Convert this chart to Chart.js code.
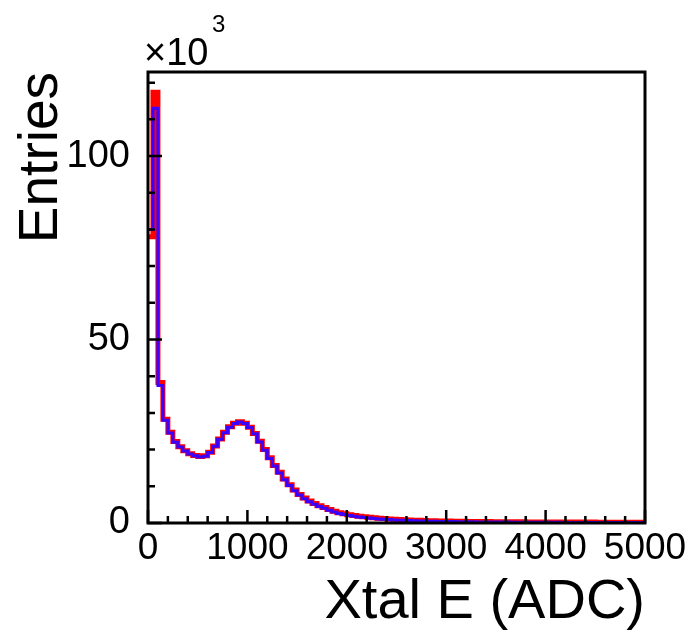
<!DOCTYPE html>
<html>
<head>
<meta charset="utf-8">
<script src="https://cdn.jsdelivr.net/npm/chart.js@4"></script>
<style>
  body { margin: 0; background: #fff; }
  #wrap { width: 687px; height: 636px; }
</style>
</head>
<body>
<div id="wrap"><canvas id="chart"></canvas></div>
<script>
// histogram: 100 bins of 50 ADC between 0 and 5000, entries in units of 10^3
const binEdges = [0, 50, 100, 150, 200, 250, 300, 350, 400, 450, 500, 550, 600, 650, 700, 750, 800, 850, 900, 950,
    1000, 1050, 1100, 1150, 1200, 1250, 1300, 1350, 1400, 1450, 1500, 1550, 1600, 1650, 1700, 1750, 1800, 1850, 1900, 1950,
    2000, 2050, 2100, 2150, 2200, 2250, 2300, 2350, 2400, 2450, 2500, 2550, 2600, 2650, 2700, 2750, 2800, 2850, 2900, 2950,
    3000, 3050, 3100, 3150, 3200, 3250, 3300, 3350, 3400, 3450, 3500, 3550, 3600, 3650, 3700, 3750, 3800, 3850, 3900, 3950,
    4000, 4050, 4100, 4150, 4200, 4250, 4300, 4350, 4400, 4450, 4500, 4550, 4600, 4650, 4700, 4750, 4800, 4850, 4900, 4950, 5000];

const blueCounts = [80, 113, 37.5, 28, 24.5, 22, 20.7, 19.6, 18.8, 18.3,
    18, 18.2, 19.2, 20.9, 22.8, 24.6, 26.1, 27.1, 27.5, 27.1,
    26, 24.3, 22.1, 19.8, 17.6, 15.5, 13.6, 11.8, 10.2, 8.8,
    7.6, 6.6, 5.8, 5.1, 4.5, 4.0, 3.5, 3.0, 2.6, 2.3,
    2.05, 1.85, 1.65, 1.5, 1.35, 1.2, 1.1, 1.0, 0.92, 0.85,
    0.78, 0.72, 0.66, 0.61, 0.57, 0.53, 0.5, 0.47, 0.44, 0.42,
    0.4, 0.38, 0.36, 0.34, 0.33, 0.31, 0.3, 0.29, 0.28, 0.27,
    0.26, 0.25, 0.24, 0.23, 0.22, 0.22, 0.21, 0.2, 0.2, 0.19,
    0.19, 0.18, 0.18, 0.17, 0.17, 0.16, 0.16, 0.15, 0.15, 0.15,
    0.14, 0.14, 0.14, 0.13, 0.13, 0.13, 0.12, 0.12, 0.12, 0.11];

const redCounts = [78, 117.4, 38.3, 28.3, 24.7, 22.2, 20.8, 19.7, 18.9, 18.4,
    18.1, 18.3, 19.3, 21, 22.9, 24.7, 26.2, 27.2, 27.6, 27.2,
    26.1, 24.4, 22.3, 20, 17.8, 15.7, 13.8, 12, 10.4, 9,
    7.8, 6.8, 6, 5.3, 4.7, 4.2, 3.7, 3.2, 2.8, 2.5,
    2.25, 2.05, 1.85, 1.7, 1.55, 1.4, 1.3, 1.2, 1.1, 1.02,
    0.95, 0.88, 0.82, 0.77, 0.72, 0.68, 0.64, 0.6, 0.57, 0.54,
    0.52, 0.5, 0.48, 0.46, 0.44, 0.42, 0.41, 0.4, 0.38, 0.37,
    0.36, 0.35, 0.34, 0.33, 0.32, 0.31, 0.3, 0.3, 0.29, 0.28,
    0.28, 0.27, 0.27, 0.26, 0.26, 0.25, 0.25, 0.24, 0.24, 0.24,
    0.23, 0.23, 0.23, 0.22, 0.22, 0.22, 0.21, 0.21, 0.21, 0.2];

const xRange = [0, 5000];
const yRange = [0, 122.9];
const xMajor = 1000, xMinor = 200;
const yMajor = 50, yMinor = 10;

// stepped line points: left edge of each bin, plus the last right edge
const toSteps = counts => binEdges.map((e, i) => ({ x: e, y: counts[Math.min(i, counts.length - 1)] }));

const FONT = '"Liberation Sans", Arial, Helvetica, sans-serif';
Chart.defaults.font.family = FONT;
Chart.defaults.color = '#000';

// ROOT-like frame with ticks pointing inside, and the x10^3 multiplier
const framePlugin = {
    id: 'frame',
    afterDatasetsDraw(chart) {
        const { ctx, chartArea: a, scales: { x, y } } = chart;
        ctx.save();
        ctx.strokeStyle = '#000';
        ctx.lineWidth = 2.5;
        ctx.beginPath();
        for (let v = xRange[0]; v <= xRange[1]; v += xMinor) {
            const px = x.getPixelForValue(v);
            const len = v % xMajor === 0 ? 13 : 7;
            ctx.moveTo(px, a.bottom);
            ctx.lineTo(px, a.bottom - len);
        }
        for (let v = yRange[0]; v <= yRange[1]; v += yMinor) {
            const py = y.getPixelForValue(v);
            const len = v % yMajor === 0 ? 14 : 7;
            ctx.moveTo(a.left, py);
            ctx.lineTo(a.left + len, py);
        }
        ctx.stroke();
        ctx.lineWidth = 3;
        ctx.strokeRect(a.left, a.top, a.right - a.left, a.bottom - a.top);

        ctx.fillStyle = '#000';
        ctx.textBaseline = 'alphabetic';
        ctx.font = '38px ' + FONT;
        ctx.fillText('\u00d710', a.left - 4, a.top - 7);
        ctx.font = '24px ' + FONT;
        ctx.fillText('3', a.left + 64, a.top - 40);
        ctx.restore();
    }
};

const chart = new Chart(document.getElementById('chart').getContext('2d'), {
    type: 'line',
    data: {
        datasets: [{
            label: 'blue',
            data: toSteps(blueCounts),
            stepped: 'before',
            borderColor: '#3a00ff',
            borderWidth: 3,
            pointRadius: 0,
            fill: false
        }, {
            label: 'red',
            data: toSteps(redCounts),
            stepped: 'before',
            borderColor: '#ff0000',
            borderWidth: 5,
            pointRadius: 0,
            fill: false
        }]
    },
    options: {
        responsive: true,
        maintainAspectRatio: false,
        animation: false,
        layout: { padding: { left: 0, top: 72, right: 42, bottom: 0 } },
        plugins: { legend: { display: false }, tooltip: { enabled: false } },
        scales: {
            x: {
                type: 'linear',
                min: xRange[0],
                max: xRange[1],
                grid: { display: false, drawTicks: false },
                border: { display: false },
                ticks: {
                    stepSize: xMajor, autoSkip: false, maxRotation: 0, padding: 4, font: { size: 37 },
                    callback: v => String(v)
                },
                title: { display: true, text: 'Xtal E (ADC)', align: 'end', font: { size: 56 }, padding: { top: 0, bottom: 0 } },
                afterFit: s => { s.height = 113; s.paddingLeft = 0; s.paddingRight = 0; }
            },
            y: {
                min: yRange[0],
                max: yRange[1],
                grid: { display: false, drawTicks: false },
                border: { display: false },
                ticks: { stepSize: yMajor, includeBounds: false, padding: 18, font: { size: 38 } },
                title: { display: true, text: 'Entries', align: 'end', font: { size: 55 }, padding: { top: 9, bottom: 0 } },
                afterFit: s => { s.width = 148; s.paddingTop = 0; s.paddingBottom = 0; }
            }
        }
    },
    plugins: [framePlugin]
});
</script>
</body>
</html>
